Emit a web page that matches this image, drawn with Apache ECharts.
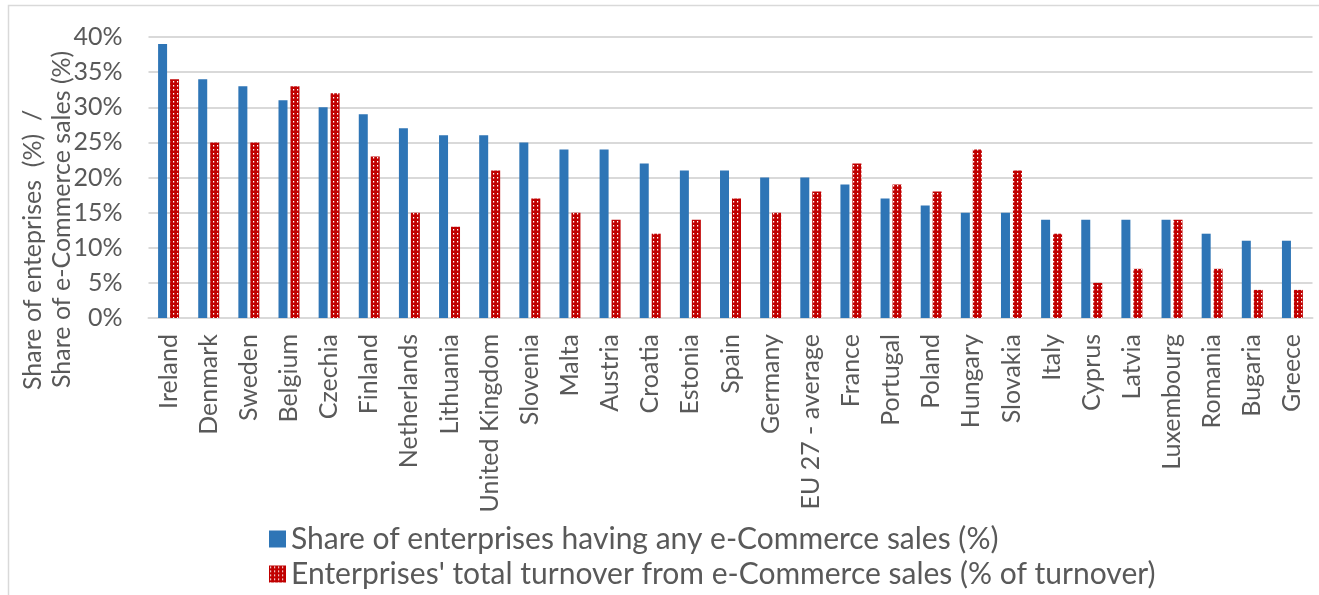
<!DOCTYPE html>
<html>
<head>
<meta charset="utf-8">
<title>e-Commerce sales by country</title>
<script src="https://cdn.jsdelivr.net/npm/echarts@6/dist/echarts.min.js"></script>
<style>
  html, body { margin: 0; padding: 0; background: #ffffff; }
  #chart { width: 1319px; height: 595px; }
</style>
</head>
<body>
<div id="chart"></div>
<script>
// Countries, ordered by share of enterprises selling online
const countries = [
  'Ireland', 'Denmark', 'Sweden', 'Belgium', 'Czechia', 'Finland', 'Netherlands',
  'Lithuania', 'United Kingdom', 'Slovenia', 'Malta', 'Austria', 'Croatia', 'Estonia',
  'Spain', 'Germany', 'EU 27 - average', 'France', 'Portugal', 'Poland', 'Hungary',
  'Slovakia', 'Italy', 'Cyprus', 'Latvia', 'Luxembourg', 'Romania', 'Bugaria', 'Greece'
];

// Share of enterprises having any e-Commerce sales (%)
const shareEnterprises = [
  39, 34, 33, 31, 30, 29, 27, 26, 26, 25, 24, 24, 22, 21,
  21, 20, 20, 19, 17, 16, 15, 15, 14, 14, 14, 14, 12, 11, 11
];

// Enterprises' total turnover from e-Commerce sales (% of turnover)
const shareTurnover = [
  34, 25, 25, 33, 32, 23, 15, 13, 21, 17, 15, 14, 12, 14,
  17, 15, 18, 22, 19, 18, 24, 21, 12, 5, 7, 14, 7, 4, 4
];

const seriesNames = [
  'Share of enterprises having any e-Commerce sales (%)',
  "Enterprises' total turnover from e-Commerce sales (% of turnover)"
];

const titleLines = ['Share of enteprises  (%)  /', 'Share of e-Commerce sales (%)'];

// Red fill with a fine grid of white dots
function dottedPattern() {
  const c = document.createElement('canvas');
  c.width = 4; c.height = 4;
  const ctx = c.getContext('2d');
  ctx.fillStyle = '#C00000';
  ctx.fillRect(0, 0, 4, 4);
  ctx.fillStyle = '#ffffff';
  ctx.fillRect(1, 1, 1.2, 1.5);
  return c;
}

const FONT = 'Lato';
const TEXT = '#595959';
const GRID = '#d9d9d9';

// one legend box per row so both entries stack on the left
function legendRow(name, top) {
  return {
    orient: 'horizontal',
    left: 264, top: top,
    itemWidth: 17, itemHeight: 17,
    icon: 'rect',
    textStyle: { fontSize: 30, color: TEXT, fontFamily: FONT },
    data: [name]
  };
}

const chart = echarts.init(document.getElementById('chart'), null, { renderer: 'canvas' });

chart.setOption({
  animation: false,
  backgroundColor: '#ffffff',
  textStyle: { fontFamily: FONT, color: TEXT },
  grid: { left: 148.5, right: 6.5, top: 37, bottom: 277, containLabel: false },
  xAxis: {
    type: 'category',
    data: countries,
    axisTick: { show: false },
    axisLine: { lineStyle: { color: GRID, width: 2 } },
    axisLabel: { rotate: 90, margin: 16, fontSize: 25, color: TEXT, fontFamily: FONT, interval: 0 }
  },
  yAxis: {
    type: 'value',
    min: 0, max: 40, interval: 5,
    axisLine: { show: false },
    axisTick: { show: false },
    splitLine: { lineStyle: { color: GRID, width: 2 } },
    axisLabel: { formatter: '{value}%', margin: 26, fontSize: 25, color: TEXT, fontFamily: FONT }
  },
  legend: [
    legendRow(seriesNames[0], 519),
    legendRow(seriesNames[1], 554)
  ],
  graphic: [
    {
      type: 'rect', silent: true,
      shape: { x: 8.5, y: 5.5, width: 1400, height: 700 },
      style: { fill: 'none', stroke: '#d9d9d9', lineWidth: 1.5 }
    },
    {
      type: 'text', silent: true, x: 33, y: 390, rotation: Math.PI / 2,
      style: { text: titleLines[0], font: '25px ' + FONT, fill: TEXT, textAlign: 'left', textVerticalAlign: 'middle' }
    },
    {
      type: 'text', silent: true, x: 62, y: 388, rotation: Math.PI / 2,
      style: { text: titleLines[1], font: '25px ' + FONT, fill: TEXT, textAlign: 'left', textVerticalAlign: 'middle' }
    }
  ],
  series: [
    {
      name: seriesNames[0], type: 'bar', data: shareEnterprises,
      barWidth: 9, barGap: '33%',
      itemStyle: { color: '#2E75B6' }
    },
    {
      name: seriesNames[1], type: 'bar', data: shareTurnover,
      barWidth: 9,
      itemStyle: { color: { image: dottedPattern(), repeat: 'repeat' } }
    }
  ]
});
</script>
</body>
</html>
